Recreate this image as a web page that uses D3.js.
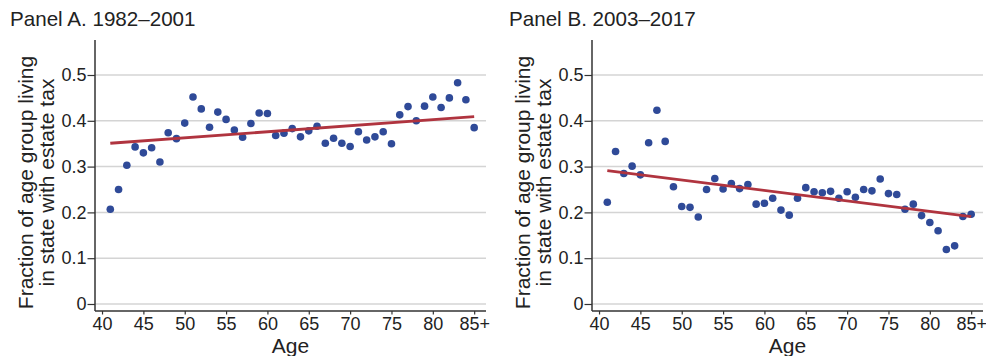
<!DOCTYPE html>
<html>
<head>
<meta charset="utf-8">
<script src="https://cdn.jsdelivr.net/npm/d3@7"></script>
<style>
  body { margin: 0; background: #fff; }
  svg { display: block; font-family: "Liberation Sans", Arial, Helvetica, sans-serif; }
</style>
</head>
<body>
<svg id="chart" width="986" height="356"></svg>
<script>
// Ages 41..85+ (85 is the top-coded group)
const ages = d3.range(41, 86);

// Panel A: 1982-2001
const valuesA = [
  0.207, 0.250, 0.303, 0.343, 0.330, 0.341, 0.310, 0.374, 0.361, 0.395,
  0.452, 0.426, 0.386, 0.419, 0.403, 0.380, 0.364, 0.394, 0.417, 0.416,
  0.368, 0.373, 0.383, 0.365, 0.378, 0.388, 0.351, 0.362, 0.351, 0.344,
  0.376, 0.358, 0.365, 0.376, 0.350, 0.413, 0.431, 0.400, 0.432, 0.452,
  0.429, 0.450, 0.483, 0.446, 0.385
];

// Panel B: 2003-2017
const valuesB = [
  0.222, 0.333, 0.285, 0.301, 0.282, 0.352, 0.423, 0.355, 0.256, 0.213,
  0.211, 0.190, 0.250, 0.274, 0.251, 0.263, 0.252, 0.261, 0.218, 0.220,
  0.231, 0.205, 0.194, 0.231, 0.254, 0.245, 0.243, 0.246, 0.231, 0.245,
  0.233, 0.250, 0.247, 0.273, 0.241, 0.239, 0.207, 0.218, 0.193, 0.178,
  0.160, 0.119, 0.127, 0.191, 0.196
];

// fitted lines, endpoints at age 41 and 85
const fitA = [[41, 0.351], [85, 0.409]];
const fitB = [[41, 0.291], [85, 0.191]];

const xTicks = [40, 45, 50, 55, 60, 65, 70, 75, 80, 85];
const yTicks = [0, 0.1, 0.2, 0.3, 0.4, 0.5];

const panels = [
  { title: "Panel A. 1982\u20132001", values: valuesA, fit: fitA, left: 95, titleX: 10 },
  { title: "Panel B. 2003\u20132017", values: valuesB, fit: fitB, left: 592, titleX: 509 }
];

const svg = d3.select("#chart");
const plotW = 391;
const plotTop = 40, plotBottom = 311;

const y = d3.scaleLinear().domain([-0.0153, 0.5]).range([plotBottom, 75]);

panels.forEach((p) => {
  const x = d3.scaleLinear().domain([39.15, 86.43]).range([p.left, p.left + plotW]);
  const g = svg.append("g");

  // title
  g.append("text")
    .attr("x", p.titleX)
    .attr("y", 25.5)
    .style("font-size", "20.6px")
    .style("fill", "#222")
    .text(p.title);

  // grid lines
  g.append("g")
    .selectAll("line")
    .data(yTicks)
    .join("line")
    .attr("x1", p.left)
    .attr("x2", p.left + plotW)
    .attr("y1", (d) => y(d))
    .attr("y2", (d) => y(d))
    .attr("stroke", "#d4d4d4")
    .attr("stroke-width", 1.5);

  // y axis
  const yAxis = g.append("g")
    .attr("transform", `translate(${p.left},0)`)
    .call(d3.axisLeft(y).tickValues(yTicks).tickSize(7.5).tickPadding(1)
      .tickFormat((d) => (d === 0 ? "0" : d3.format(".1f")(d))));
  yAxis.select(".domain").attr("d", `M0,${plotTop}V${plotBottom}`);

  // x axis
  const xAxis = g.append("g")
    .attr("transform", `translate(0,${plotBottom})`)
    .call(d3.axisBottom(x).tickValues(xTicks).tickSize(3.5).tickPadding(3)
      .tickFormat((d) => (d === 85 ? "85+" : d)));
  xAxis.select(".domain").attr("d", `M${p.left},0H${p.left + plotW}`);

  g.selectAll(".domain").attr("stroke", "#333").attr("stroke-width", 1.5);
  g.selectAll(".tick line").attr("stroke", "#333").attr("stroke-width", 1.2);
  g.selectAll(".tick text")
    .style("font-size", "18px")
    .style("font-family", "'Liberation Sans', Arial, sans-serif")
    .attr("fill", "#222");

  // axis titles
  const yl = g.append("text")
    .attr("transform", `translate(${p.left - 62},182.5) rotate(-90)`)
    .attr("text-anchor", "middle")
    .style("font-size", "21px")
    .style("fill", "#222");
  yl.append("tspan").attr("x", 0).attr("y", 0).text("Fraction of age group living");
  yl.append("tspan").attr("x", 0).attr("y", 20.5).text("in state with estate tax");

  g.append("text")
    .attr("x", p.left + plotW / 2)
    .attr("y", 353)
    .attr("text-anchor", "middle")
    .style("font-size", "21px")
    .style("fill", "#222")
    .text("Age");

  // points
  g.append("g")
    .selectAll("circle")
    .data(ages.map((a, i) => ({ age: a, v: p.values[i] })))
    .join("circle")
    .attr("cx", (d) => x(d.age))
    .attr("cy", (d) => y(d.v))
    .attr("r", 3.8)
    .attr("fill", "#2f4a98");

  // fit line
  g.append("path")
    .datum(p.fit)
    .attr("fill", "none")
    .attr("stroke", "#b0343f")
    .attr("stroke-width", 2.8)
    .attr("d", d3.line().x((d) => x(d[0])).y((d) => y(d[1])));
});
</script>
</body>
</html>
